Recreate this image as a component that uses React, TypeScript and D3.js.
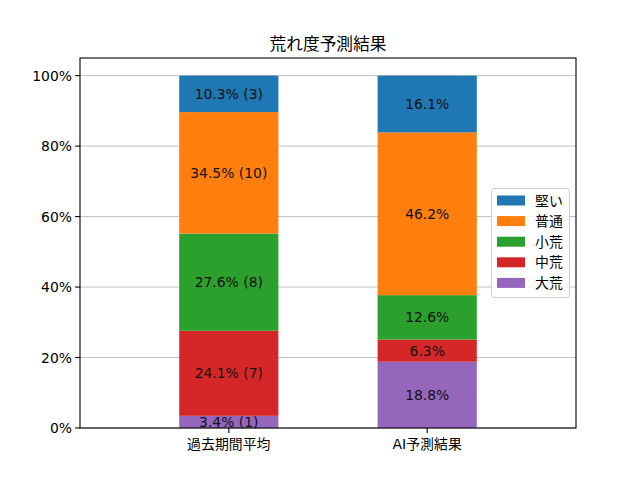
import React from "react";
import * as d3 from "d3";

const categories = ["過去期間平均", "AI予測結果"];
const seriesNames = ["大荒", "中荒", "小荒", "普通", "堅い"];
const seriesColors = ["#9467bd", "#d62728", "#2ca02c", "#ff7f0e", "#1f77b4"];
const pastCounts = [1, 7, 8, 10, 3];
const aiPercents = [18.8, 6.3, 12.6, 46.2, 16.1];
const yTicks = [0, 20, 40, 60, 80, 100];

const W = 640, H = 480;
const left = 80, right = 576, top = 58, bottom = 428;
const FONT = "'DejaVu Sans', 'Noto Sans CJK JP', sans-serif";

export default function App() {
  const total = d3.sum(pastCounts);
  const pastPercents = pastCounts.map((c) => (c / total) * 100);
  const x = d3.scaleLinear().domain([-0.75, 1.75]).range([left, right]);
  const y = d3.scaleLinear().domain([0, 105]).range([bottom, top]);
  const bw = x(0.25) - x(0);

  const rows = [
    { vals: pastPercents, labels: pastPercents.map((p, i) => `${p.toFixed(1)}% (${pastCounts[i]})`) },
    { vals: aiPercents, labels: aiPercents.map((p) => `${p.toFixed(1)}%`) },
  ];

  const legendItems = seriesNames.map((n, i) => ({ n, c: seriesColors[i] })).reverse();
  const lx = 491.5, ly = 188.5, lw = 78, lh = 109;

  return (
    <svg width={W} height={H} style={{ position: "absolute", left: 0, top: 0, background: "#fff" }} fontFamily={FONT}>
      <rect x={0} y={0} width={W} height={H} fill="#fff" />
      {yTicks.map((t) => (
        <line key={"g" + t} x1={left} x2={right} y1={y(t)} y2={y(t)} stroke="#b0b0b0" strokeWidth={0.8} />
      ))}
      {rows.map((r, ci) => {
        let acc = 0;
        return r.vals.map((v, si) => {
          const y0 = acc;
          acc += v;
          const cx = x(ci);
          return (
            <g key={ci + "-" + si}>
              <rect x={cx - bw} y={y(acc)} width={bw * 2} height={y(y0) - y(acc)} fill={seriesColors[si]} />
              <text x={cx} y={y((y0 + acc) / 2)} textAnchor="middle" dominantBaseline="central" fontSize={13.9} fill="#111">
                {r.labels[si]}
              </text>
            </g>
          );
        });
      })}
      <rect x={left} y={top} width={right - left} height={bottom - top} fill="none" stroke="#000" strokeWidth={1.1} />
      {yTicks.map((t) => (
        <g key={"t" + t}>
          <line x1={left - 4.9} x2={left} y1={y(t)} y2={y(t)} stroke="#000" strokeWidth={1.1} />
          <text x={left - 8} y={y(t)} textAnchor="end" dominantBaseline="central" fontSize={13.9} fill="#000">
            {t}%
          </text>
        </g>
      ))}
      {categories.map((c, i) => (
        <g key={c}>
          <line x1={x(i)} x2={x(i)} y1={bottom} y2={bottom + 4.9} stroke="#000" strokeWidth={1.1} />
          <text x={x(i)} y={bottom + 16} textAnchor="middle" dominantBaseline="central" fontSize={13.9} fill="#000">
            {c}
          </text>
        </g>
      ))}
      <text x={(left + right) / 2} y={44} textAnchor="middle" dominantBaseline="central" fontSize={16.7} fill="#000">
        荒れ度予測結果
      </text>
      <rect x={lx} y={ly} width={lw} height={lh} rx={3} fill="#fff" fillOpacity={0.8} stroke="#cccccc" strokeWidth={1} />
      {legendItems.map((it, i) => (
        <g key={it.n}>
          <rect x={497} y={ly + 7 + i * 20.6} width={28} height={10} fill={it.c} />
          <text x={535} y={ly + 12 + i * 20.6} dominantBaseline="central" fontSize={13.9} fill="#000">
            {it.n}
          </text>
        </g>
      ))}
    </svg>
  );
}
